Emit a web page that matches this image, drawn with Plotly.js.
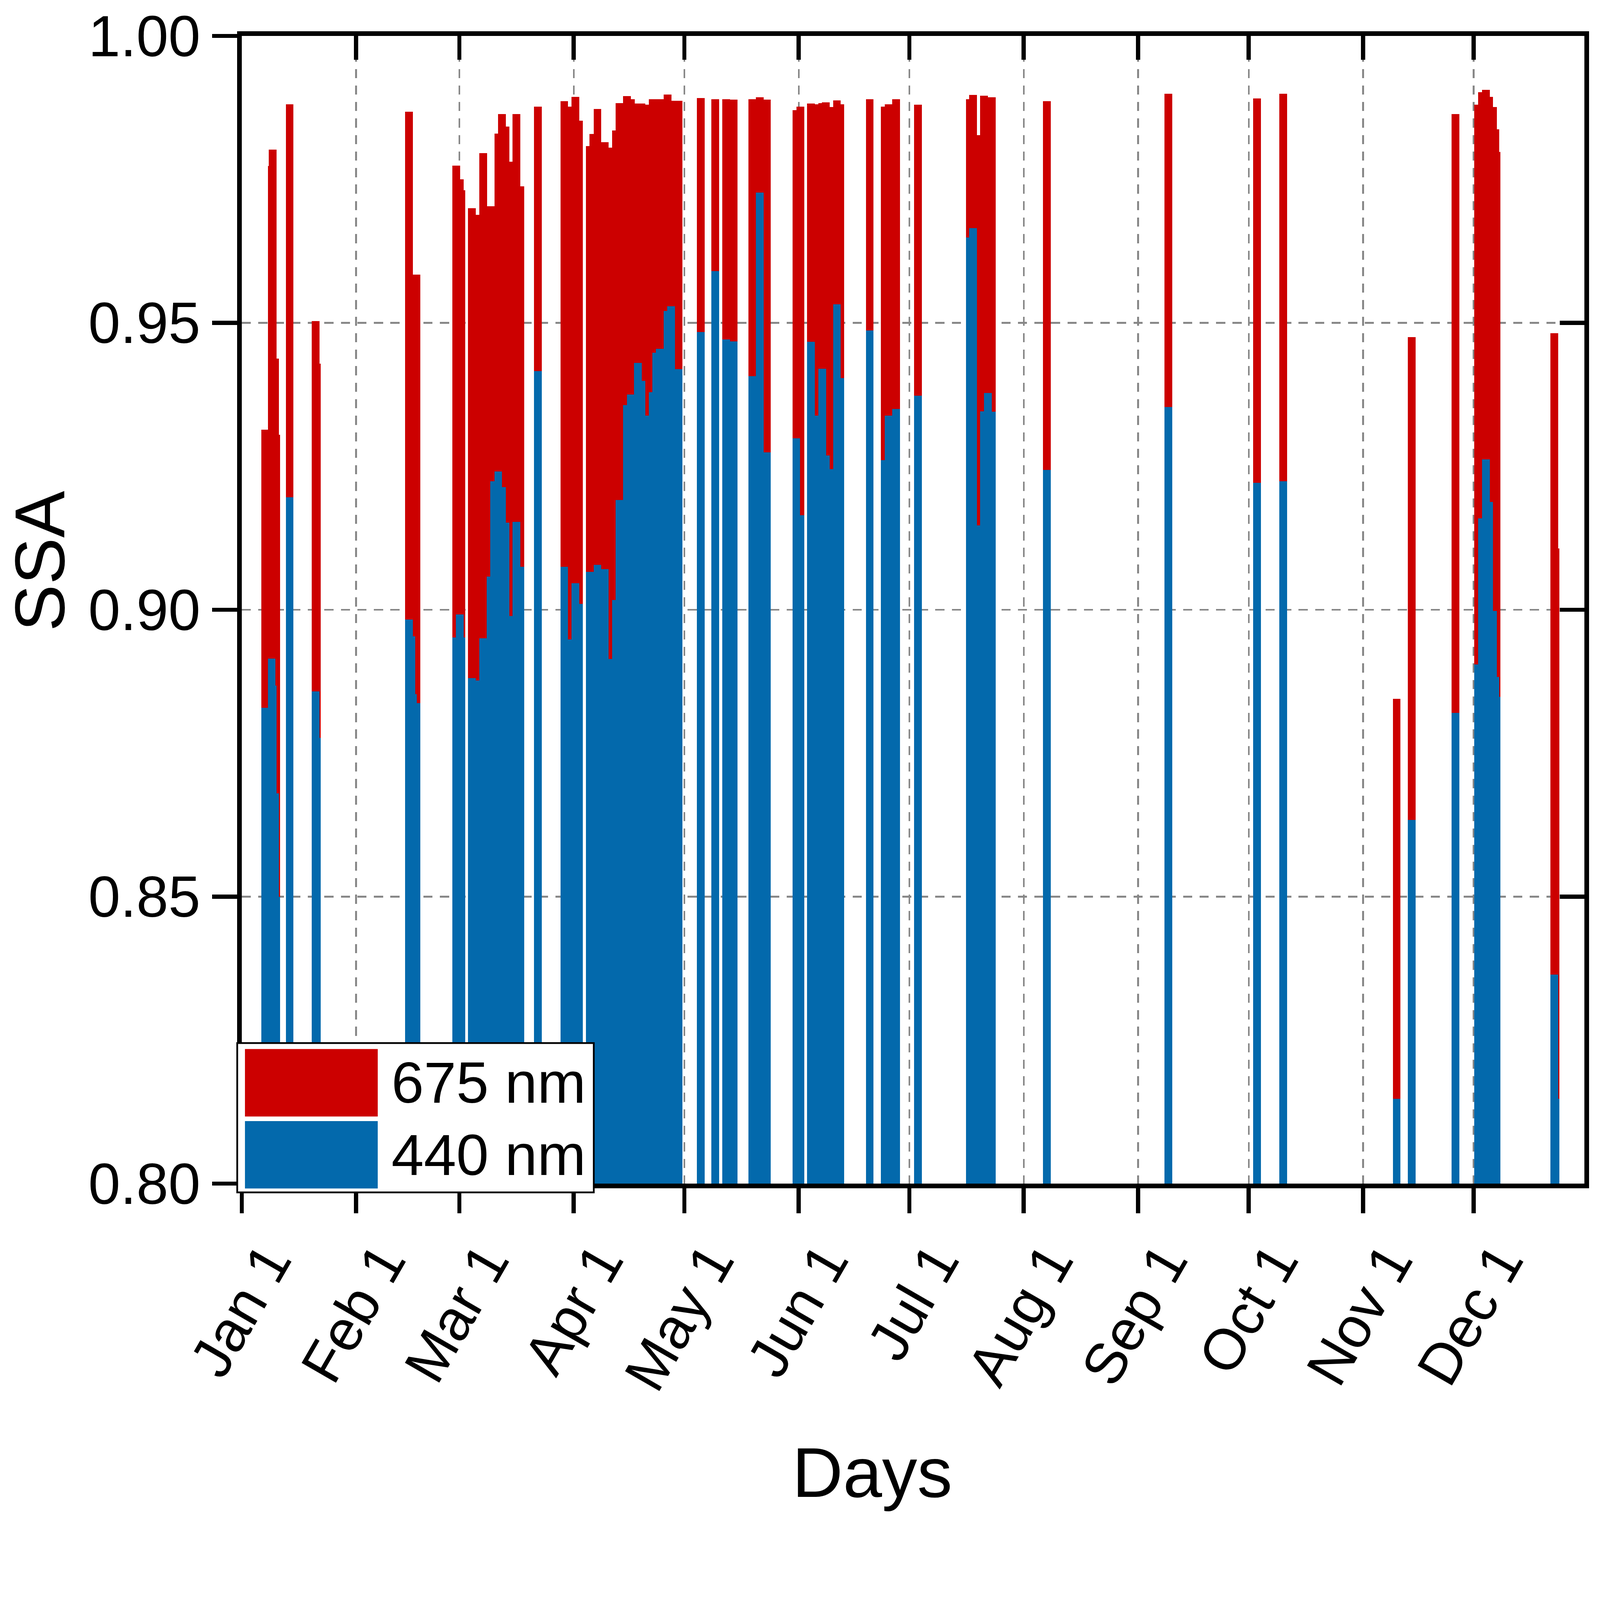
<!DOCTYPE html>
<html>
<head>
<meta charset="utf-8">
<script src="https://cdn.plot.ly/plotly-3.0.1.min.js"></script>
<style>
  html, body { margin: 0; padding: 0; background: #ffffff; overflow: hidden; }
</style>
</head>
<body>
<div id="ssa-chart"></div>
<script>
// day of year of each retrieval (fractional)
const retrievalDay = [
    7.33, 9.11, 9.40, 10.02, 10.38, 13.98, 21.01, 21.37,
    46.29, 46.94, 47.38, 48.40,
    59.10, 60.10, 60.54, 63.42, 64.42, 66.47, 68.48, 69.44, 70.53, 71.54, 72.50, 73.41, 75.47, 76.51,
    81.31,
    88.43, 89.39, 91.44, 92.45,
    95.37, 96.33, 97.42, 99.43, 100.39, 102.44, 103.40, 105.45, 106.46, 108.42, 109.38, 110.34,
    112.39, 113.40, 114.36, 116.41, 117.41, 119.42,
    125.44, 129.34, 132.30, 134.35, 139.40, 141.44, 143.37,
    151.34, 152.47, 155.34, 156.34, 158.41, 159.34, 160.28, 162.34, 163.28,
    171.24, 175.35, 176.35, 178.35, 184.31,
    198.35, 199.28, 200.55, 202.22, 203.29, 204.35,
    219.25, 252.24, 276.28, 283.32,
    314.12, 318.21, 330.09,
    336.15, 337.22, 338.27, 339.19, 340.27, 340.84, 341.22,
    356.84, 357.16
];

// single scattering albedo at 675 nm
const ssa675 = [
    0.9314, 0.9773, 0.9802, 0.9438, 0.9305, 0.9881, 0.9503, 0.9429,
    0.9868, 0.9550, 0.9550, 0.9584,
    0.9774, 0.9750, 0.9731, 0.9700, 0.9688, 0.9796, 0.9703, 0.9700, 0.9830, 0.9864, 0.9842, 0.9781, 0.9864, 0.9738,
    0.9877,
    0.9886, 0.9877, 0.9894, 0.9852,
    0.9808, 0.9829, 0.9873, 0.9815, 0.9805, 0.9835, 0.9883, 0.9895, 0.9890, 0.9882, 0.9882, 0.9880,
    0.9890, 0.9890, 0.9890, 0.9898, 0.9887, 0.9887,
    0.9892, 0.9890, 0.9890, 0.9889, 0.9890, 0.9893, 0.9889,
    0.9871, 0.9877, 0.9882, 0.9881, 0.9883, 0.9884, 0.9876, 0.9888, 0.9881,
    0.9890, 0.9877, 0.9881, 0.9890, 0.9880,
    0.9890, 0.9897, 0.9827, 0.9896, 0.9893, 0.9893,
    0.9886, 0.9899, 0.9891, 0.9899,
    0.8845, 0.9475, 0.9864,
    0.9880, 0.9902, 0.9906, 0.9894, 0.9876, 0.9837, 0.9798,
    0.9482, 0.9107
];

// single scattering albedo at 440 nm
const ssa440 = [
    0.8829, 0.8915, 0.8868, 0.8680, 0.8500, 0.9196, 0.8858, 0.8777,
    0.8983, 0.8954, 0.8853, 0.8837,
    0.8952, 0.8992, 0.8952, 0.8881, 0.8877, 0.8950, 0.9058, 0.9224, 0.9241, 0.9214, 0.9152, 0.8989, 0.9153, 0.9075,
    0.9416,
    0.9075, 0.8948, 0.9046, 0.9010,
    0.9066, 0.9066, 0.9078, 0.9071, 0.8914, 0.9017, 0.9191, 0.9357, 0.9375, 0.9430, 0.9399, 0.9338,
    0.9379, 0.9448, 0.9455, 0.9521, 0.9529, 0.9419,
    0.9484, 0.9590, 0.9471, 0.9468, 0.9407, 0.9727, 0.9274,
    0.9299, 0.9165, 0.9467, 0.9338, 0.9420, 0.9269, 0.9245, 0.9532, 0.9404,
    0.9487, 0.9261, 0.9338, 0.9350, 0.9373,
    0.9649, 0.9665, 0.9147, 0.9346, 0.9378, 0.9345,
    0.9244, 0.9353, 0.9221, 0.9224,
    0.8148, 0.8634, 0.8820,
    0.8905, 0.9159, 0.9262, 0.9188, 0.8998, 0.8883, 0.8848,
    0.8364, 0.8148
];

const monthTickDays = [1, 32, 60, 91, 121, 152, 182, 213, 244, 274, 305, 335];
const monthTickText = ['Jan 1', 'Feb 1', 'Mar 1', 'Apr 1', 'May 1', 'Jun 1', 'Jul 1', 'Aug 1', 'Sep 1', 'Oct 1', 'Nov 1', 'Dec 1'];
const ssaTicks = [0.80, 0.85, 0.90, 0.95, 1.00];
const seriesNames = ['675 nm', '440 nm'];
const xTitle = 'Days';
const yTitle = 'SSA';

const RED = '#cc0000';
const BLUE = '#0369ac';
const GRID = '#878787';
const FONT = 'Liberation Sans, Arial, Helvetica, sans-serif';

// design size of the figure; everything is scaled to the real window
const W = 4554, H = 4332;
const frame = { l: 688, r: 4510, t: 102, b: 3369 };
const px = x => (x - frame.l) / (frame.r - frame.l);
const py = y => (frame.b - y) / (frame.b - frame.t);

function buildChart() {
    const S = Math.min((window.innerWidth || W) / W, (window.innerHeight || H) / H);
    const k = v => v * S;
    const ki = v => Math.round(v * S);   // for attributes plotly wants as integers

    const barWidth = 2.1;
    // 440 nm sits on the mirrored axes so it draws over 675 nm and gives the top/right frame
    const traces = [
        { x: retrievalDay, y: ssa675, name: seriesNames[0], type: 'bar', width: barWidth,
          marker: { color: RED, line: { width: 0 } }, showlegend: false },
        { x: retrievalDay, y: ssa440, name: seriesNames[1], type: 'bar', width: barWidth,
          xaxis: 'x2', yaxis: 'y2',
          marker: { color: BLUE, line: { width: 0 } }, showlegend: false }
    ];

    const tickFont = { family: FONT, size: k(164), color: '#000000' };
    const axisCommon = {
        showline: true, linecolor: '#000000', linewidth: k(13),
        ticks: 'outside', ticklen: k(72), tickwidth: k(12), tickcolor: '#000000',
        tickfont: tickFont,
        showgrid: true, gridcolor: GRID, gridwidth: k(5), griddash: k(26) + 'px,' + k(21) + 'px',
        zeroline: false, automargin: false
    };
    const mirrorCommon = {
        showticklabels: false, ticks: 'inside', tickwidth: k(12), tickcolor: '#000000',
        showline: true, linecolor: '#000000', linewidth: k(13),
        showgrid: false, zeroline: false, automargin: false
    };

    // drawn legend: framed box with two big swatches
    const shapes = [
        { type: 'rect', xref: 'paper', yref: 'paper', layer: 'above',
          x0: px(675), x1: px(1690), y0: py(3394), y1: py(2969),
          fillcolor: '#ffffff', line: { color: '#000000', width: k(5) } },
        { type: 'rect', xref: 'paper', yref: 'paper', layer: 'above',
          x0: px(697), x1: px(1075), y0: py(3178), y1: py(2986),
          fillcolor: RED, line: { width: 0 } },
        { type: 'rect', xref: 'paper', yref: 'paper', layer: 'above',
          x0: px(697), x1: px(1075), y0: py(3383), y1: py(3191),
          fillcolor: BLUE, line: { width: 0 } }
    ];
    const legendFont = { family: FONT, size: k(166), color: '#000000' };
    const titleFont = { family: FONT, size: k(200), color: '#000000' };
    const annotations = [
        { text: seriesNames[0], xref: 'paper', yref: 'paper', x: px(1112), y: py(3082),
          xanchor: 'left', yanchor: 'middle', showarrow: false, font: legendFont },
        { text: seriesNames[1], xref: 'paper', yref: 'paper', x: px(1112), y: py(3287),
          xanchor: 'left', yanchor: 'middle', showarrow: false, font: legendFont },
        // axis titles, placed where the original figure has them
        { text: xTitle, xref: 'paper', yref: 'paper', x: px(2483), y: py(4191),
          xanchor: 'center', yanchor: 'middle', showarrow: false, font: titleFont },
        { text: yTitle, xref: 'paper', yref: 'paper', x: px(112), y: py(1597), textangle: -90,
          xanchor: 'center', yanchor: 'middle', showarrow: false, font: titleFont }
    ];

    const layout = {
        width: k(W), height: k(H), autosize: false,
        paper_bgcolor: '#ffffff', plot_bgcolor: '#ffffff',
        margin: { l: k(frame.l), r: k(W - frame.r), t: k(frame.t), b: k(H - frame.b), pad: 0 },
        barmode: 'overlay', bargap: 0,
        font: { family: FONT, color: '#000000' },
        showlegend: false,
        xaxis: Object.assign({}, axisCommon, {
            range: [1, 365], tickmode: 'array', tickvals: monthTickDays, ticktext: monthTickText,
            tickangle: -60, ticklabelshift: ki(75), ticklabelstandoff: ki(-26)
        }),
        yaxis: Object.assign({}, axisCommon, {
            range: [0.8, 1.0], tickmode: 'array', tickvals: ssaTicks, tickformat: '.2f'
        }),
        xaxis2: Object.assign({}, mirrorCommon, {
            overlaying: 'x', anchor: 'y2', side: 'top', range: [1, 365],
            tickmode: 'array', tickvals: monthTickDays, ticklen: k(68)
        }),
        yaxis2: Object.assign({}, mirrorCommon, {
            overlaying: 'y', anchor: 'x2', side: 'right', range: [0.8, 1.0],
            tickmode: 'array', tickvals: ssaTicks, ticklen: k(70)
        }),
        shapes: shapes,
        annotations: annotations
    };

    Plotly.newPlot('ssa-chart', traces, layout, { displayModeBar: false, staticPlot: true });
}

document.addEventListener('DOMContentLoaded', buildChart);
</script>
</body>
</html>
